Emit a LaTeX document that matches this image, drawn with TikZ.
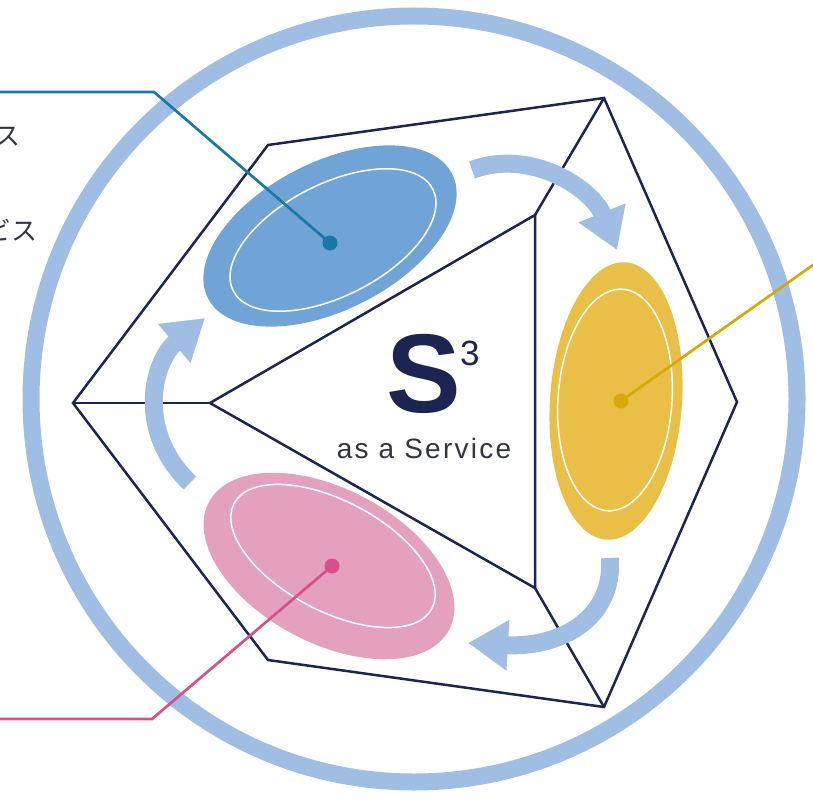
\documentclass[tikz,border=0pt]{standalone}
\usepackage{fontspec}
\setsansfont{Liberation Sans}
\newfontfamily\jpfont{Noto Sans CJK JP}
\usepackage{tikz}
\usetikzlibrary{arrows.meta,positioning}
\usepackage{xcolor}
\definecolor{s3navy}{RGB}{28,36,82}
\definecolor{s3ring}{RGB}{160,190,227}
\definecolor{s3blue}{RGB}{112,164,214}
\definecolor{s3bluedark}{RGB}{25,120,165}
\definecolor{s3gold}{RGB}{233,191,72}
\definecolor{s3golddark}{RGB}{215,168,10}
\definecolor{s3pink}{RGB}{228,161,189}
\definecolor{s3pinkdark}{RGB}{215,80,140}
\definecolor{s3text}{RGB}{50,52,64}

\begin{document}
\begin{tikzpicture}[x=1pt,y=-1pt,
  edge/.style={s3navy,line width=2.5pt,line join=miter},
  turn/.style={s3ring,line width=18pt,-{Triangle[width=48pt,length=40pt]}},
  lead/.style={line width=2.7pt},
  dot/.style={circle,inner sep=0pt,minimum size=15pt}]
  \useasboundingbox (0,0) rectangle (813,805);

  % outer hexagon
  \coordinate (L) at (73,403);
  \coordinate (TL) at (268,145);
  \coordinate (TR) at (604,98);
  \coordinate (R) at (737,402);
  \coordinate (BR) at (604,707);
  \coordinate (BL) at (268,660);
  % inner triangle
  \coordinate (IL) at (210,403);
  \coordinate (IT) at (535,215);
  \coordinate (IB) at (535,588);

  \draw[s3ring,line width=17pt] (414,399) circle [radius=383pt];

  \draw[edge] (L) -- (TL) -- (TR) -- (R) -- (BR) -- (BL) -- cycle;
  \draw[edge] (IL) -- (IT) -- (IB) -- cycle;
  \draw[edge] (IL) -- (L);
  \draw[edge] (IT) -- (TR);
  \draw[edge] (IB) -- (BR);

  % the three faces
  \fill[s3blue,rotate around={27:(330,236)}] (330,236) ellipse [x radius=137pt,y radius=74pt];
  \draw[white,line width=1.5pt,rotate around={27:(333,240)}] (333,240) ellipse [x radius=112pt,y radius=56pt];
  \fill[s3gold,rotate around={-4:(616,401)}] (616,401) ellipse [x radius=66pt,y radius=139pt];
  \draw[white,line width=1.5pt,rotate around={-4:(615,400)}] (615,400) ellipse [x radius=57pt,y radius=111pt];
  \fill[s3pink,rotate around={-28:(329,566)}] (329,566) ellipse [x radius=136pt,y radius=77pt];
  \draw[white,line width=1.5pt,rotate around={-28:(333,556)}] (333,556) ellipse [x radius=112pt,y radius=55pt];

  % cycle arrows
  \draw[turn] (472,170) .. controls (530,148) and (592,188) .. (617,250);
  \draw[turn] (610,558) .. controls (614,622) and (556,648) .. (468,643);
  \draw[turn] (190,483) .. controls (136,432) and (152,362) .. (205,318);

  \node[font=\sffamily\bfseries\fontsize{112}{112}\selectfont,text=s3navy,anchor=base,inner sep=0pt] (ess) at (424,412) {S};
  \node[font=\sffamily\fontsize{35}{35}\selectfont,text=s3navy,anchor=base west,inner sep=0pt] (cube) at (460,365) {3};
  \node[font=\sffamily\fontsize{28}{28}\selectfont\addfontfeature{LetterSpace=8},text=s3text,anchor=base,inner sep=0pt] (service) at (424,458) {as a Service};

  \node[font=\jpfont\fontsize{26}{26}\selectfont,text=s3text,anchor=base east,inner sep=0pt] (jpone) at (21,146) {ス};
  \node[font=\jpfont\fontsize{26}{26}\selectfont,text=s3text,anchor=base east,inner sep=0pt] (jptwo) at (38,240) {ビス};

  % leaders
  \coordinate (bluespot) at (330,243);
  \coordinate (bluebend) at (154,92);
  \coordinate (blueend) at (-5,92);
  \coordinate (goldspot) at (621,401);
  \coordinate (goldend) at (820,260);
  \coordinate (pinkspot) at (332,566);
  \coordinate (pinkbend) at (152,719);
  \coordinate (pinkend) at (-5,719);

  \draw[lead,s3bluedark] (bluespot) -- (bluebend) -- (blueend);
  \draw[lead,s3golddark] (goldspot) -- (goldend);
  \draw[lead,s3pinkdark] (pinkspot) -- (pinkbend) -- (pinkend);

  \node[dot,fill=s3bluedark] (bluedot) at (bluespot) {};
  \node[dot,fill=s3golddark] (golddot) at (goldspot) {};
  \node[dot,fill=s3pinkdark] (pinkdot) at (pinkspot) {};
\end{tikzpicture}
\end{document}
